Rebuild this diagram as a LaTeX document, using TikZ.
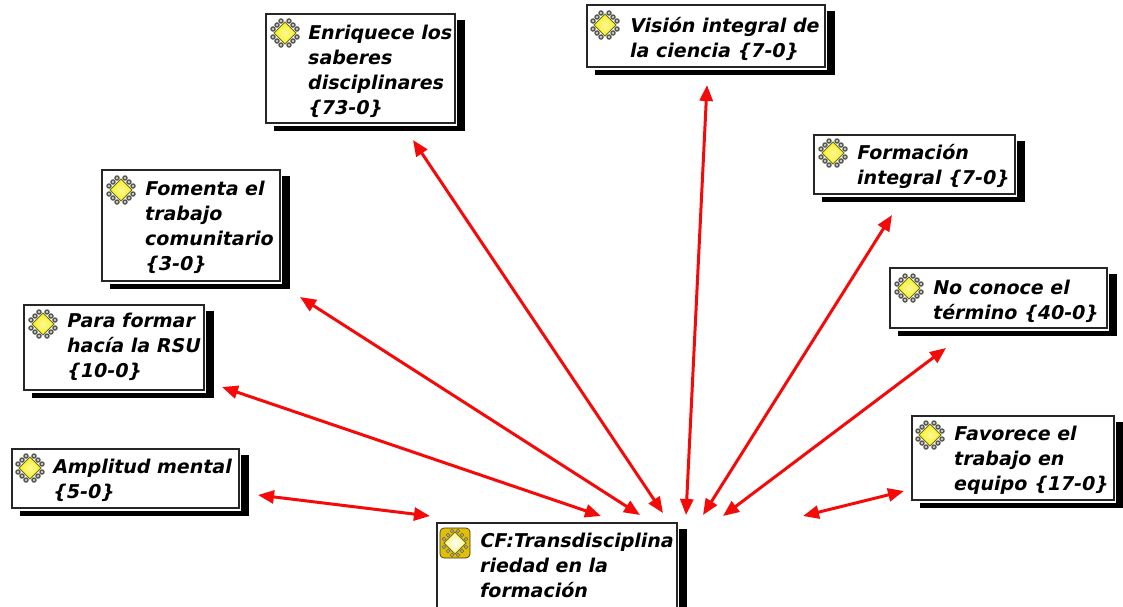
\documentclass[tikz,border=0pt]{standalone}
\usepackage{fontspec}
\setmainfont{DejaVu Sans}
\newfontfamily\labfont[FakeSlant=0.2]{DejaVu Sans Bold}
\usetikzlibrary{arrows.meta,calc}
\definecolor{arrowred}{RGB}{245,10,10}
\definecolor{knotgray}{RGB}{90,90,85}
\definecolor{diayellow}{RGB}{248,240,30}
\definecolor{diaedge}{RGB}{110,110,30}
\definecolor{cfgold}{RGB}{225,190,10}
\tikzset{
  x=1pt,y=-1pt,
  shadowbar/.style={fill=black,draw=none},
  gapbox/.style={fill=white,draw=none},
  framebox/.style={draw=black!85,fill=white,line width=1.5pt,inner sep=0pt,rectangle},
  labeltext/.style={font=\fontsize{19}{25}\labfont,anchor=base west,align=left,inner sep=0pt,text=black},
  link/.style={draw=arrowred,line width=3pt,{Triangle[length=16pt,width=13pt]}-{Triangle[length=16pt,width=13pt]}},
  knot/.style={draw=knotgray,fill=white!70!knotgray,line width=1.4pt},
  pics/quote/.style={code={
    \foreach \a/\b in {-12/-4,-8/-8,-4/-12,12/-4,8/-8,4/-12,-12/4,-8/8,-4/12,12/4,8/8,4/12}{
      \draw[knot] (\a,\b) circle (2pt);
    }
    \draw[draw=diaedge,line width=1pt,inner color=diayellow!45!white,outer color=diayellow] (-11,0) -- (0,-11) -- (11,0) -- (0,11) -- cycle;
  }},
  pics/cfquote/.style={code={
    \fill[cfgold,draw=black!70!cfgold,rounded corners=4pt,line width=.7pt] (-15,-15) rectangle (15,15);
    \foreach \a/\b in {-11/-4,-7/-8,-3/-12,11/-4,7/-8,3/-12,-11/4,-7/8,-3/12,11/4,7/8,3/12}{
      \draw[draw=knotgray,fill=yellow!60,line width=.7pt] (\a,\b) circle (1.7pt);
    }
    \draw[draw=diaedge,line width=.9pt,inner color=white,outer color=diayellow!60!white] (-11,0) -- (0,-11) -- (11,0) -- (0,11) -- cycle;
  }},
}
% name, left, top, right, bottom
\newcommand{\framed}[5]{%
  \fill[shadowbar] (#2+8,#3+6) rectangle (#4+10,#5+8);
  \fill[gapbox] (#2-1,#3-1) rectangle (#4+2,#5+2.5);
  \node[framebox,minimum width=#4-#2,minimum height=#5-#3] (#1) at ({(#2+#4)/2},{(#3+#5)/2}) {};
}
\begin{document}
\begin{tikzpicture}
\useasboundingbox (0,0) rectangle (1123,606);
\clip (0,0) rectangle (1123,606);

\framed{enr}{266}{14}{455}{123}
\framed{vis}{587}{5}{825}{67}
\framed{frm}{814}{135}{1015}{194}
\framed{noc}{890}{268}{1107}{328}
\framed{fav}{912}{416}{1114}{500}
\framed{fom}{102}{170}{280}{281}
\framed{par}{24}{305}{204}{390}
\framed{amp}{12}{449}{239}{508}
\framed{cf}{437}{523}{677}{612}

\pic at (285,33) {quote};
\pic at (605,25) {quote};
\pic at (833,153) {quote};
\pic at (909,288) {quote};
\pic at (930,435) {quote};
\pic at (121,190) {quote};
\pic at (43,324) {quote};
\pic at (30,468) {quote};
\pic at (455,543) {cfquote};

\node[labeltext] (tenr) at (307,114.5) {Enriquece los\\saberes\\disciplinares\\\{73-0\}};
\node[labeltext] (tvis) at (629,57.5) {Visión integral de\\la ciencia \{7-0\}};
\node[labeltext] (tfrm) at (856,184.5) {Formación\\integral \{7-0\}};
\node[labeltext] (tnoc) at (932,319.5) {No conoce el\\término \{40-0\}};
\node[labeltext] (tfav) at (953,490.5) {Favorece el\\trabajo en\\equipo \{17-0\}};
\node[labeltext] (tfom) at (144,270.5) {Fomenta el\\trabajo\\comunitario\\\{3-0\}};
\node[labeltext] (tpar) at (66,377.5) {Para formar\\hacía la RSU\\\{10-0\}};
\node[labeltext] (tamp) at (52,498.5) {Amplitud mental\\\{5-0\}};
\node[labeltext] (tcf) at (479,597.5) {CF:Transdisciplina\\riedad en la\\formación};

\coordinate (enrE) at (413,140); \coordinate (cfA) at (663,513);
\coordinate (visE) at (707,85);  \coordinate (cfB) at (686,515);
\coordinate (frmE) at (892,215); \coordinate (cfC) at (703,515);
\coordinate (nocE) at (946,348); \coordinate (cfD) at (723,516);
\coordinate (favE) at (904,491); \coordinate (cfH) at (803,516);
\coordinate (fomE) at (300,297); \coordinate (cfE) at (640,515);
\coordinate (parE) at (222,387); \coordinate (cfF) at (601,516);
\coordinate (ampE) at (258,495); \coordinate (cfG) at (430,516);

\draw[link] (enrE) -- (cfA);
\draw[link] (visE) -- (cfB);
\draw[link] (frmE) -- (cfC);
\draw[link] (nocE) -- (cfD);
\draw[link] (favE) -- (cfH);
\draw[link] (fomE) -- (cfE);
\draw[link] (parE) -- (cfF);
\draw[link] (ampE) -- (cfG);
\end{tikzpicture}
\end{document}
